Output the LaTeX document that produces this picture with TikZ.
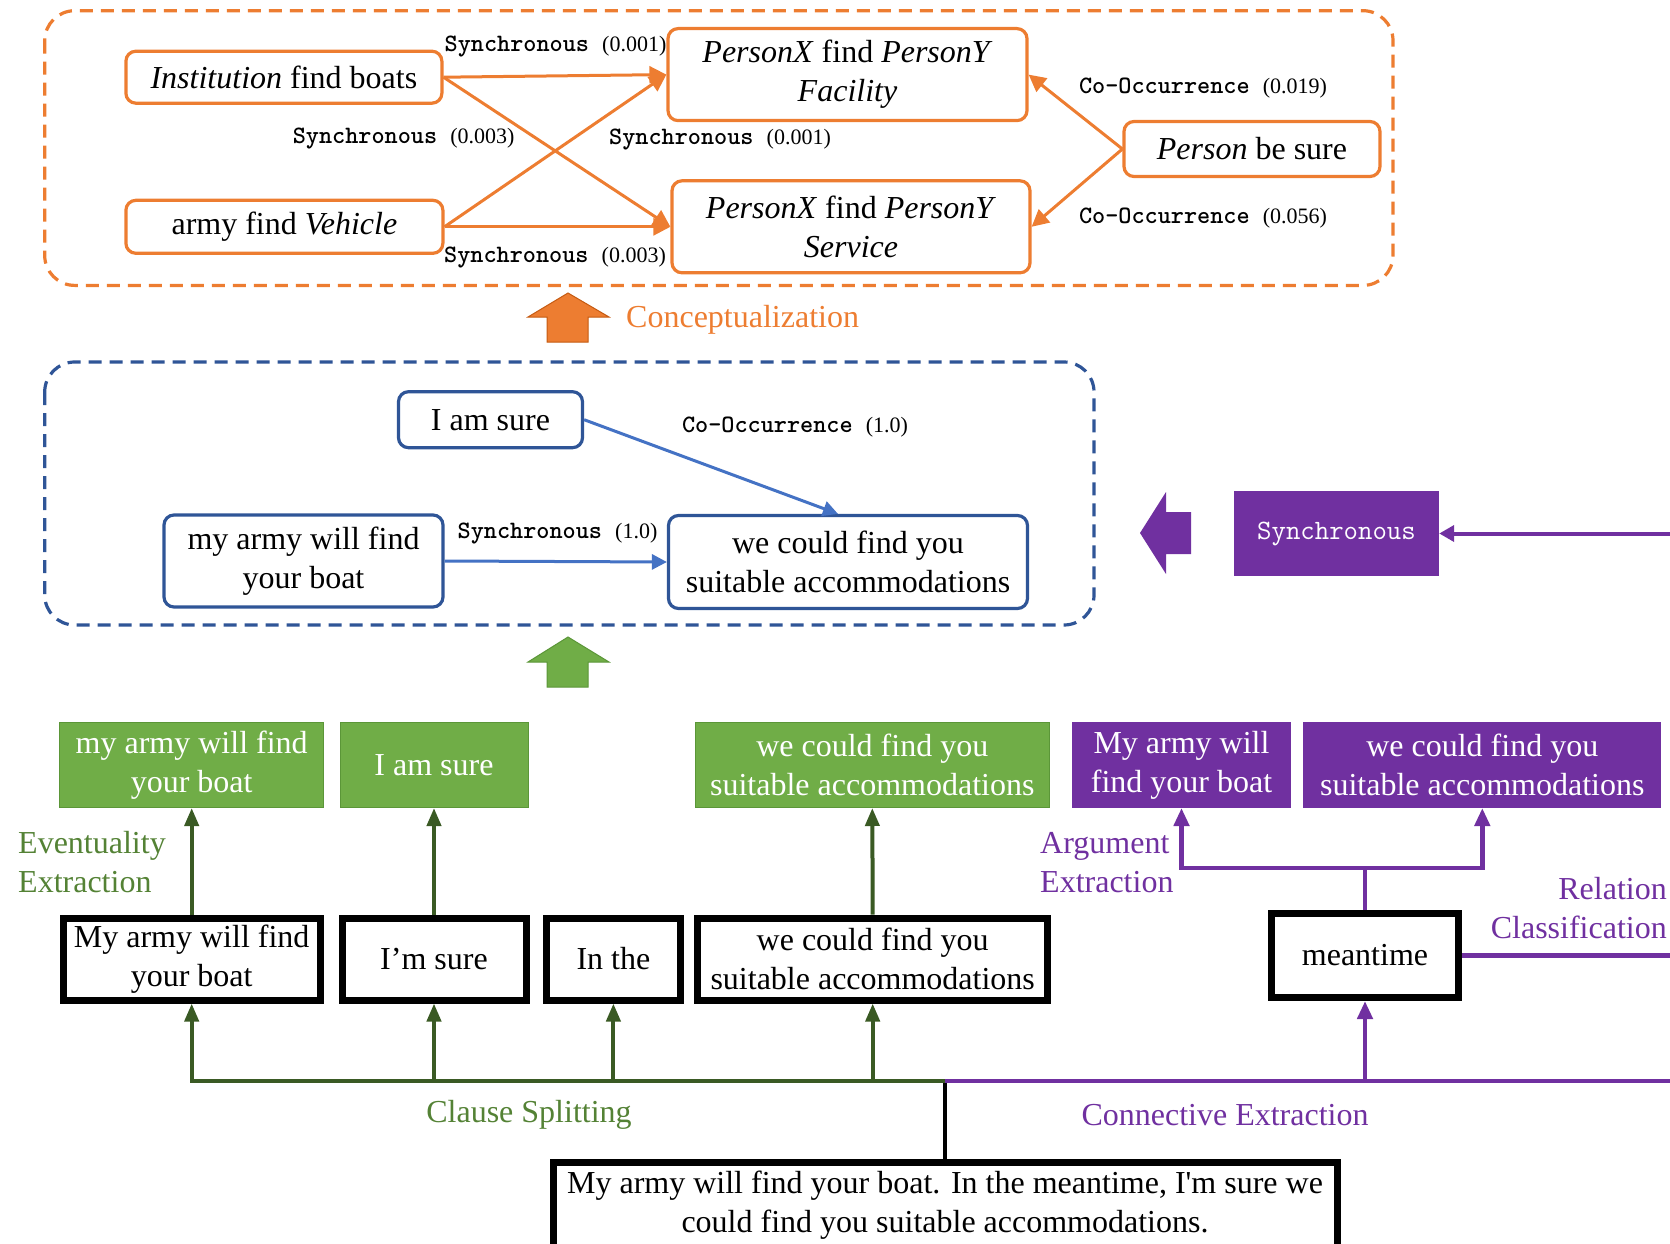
\documentclass[tikz,border=0pt]{standalone}
\usepackage{fontspec}
\setmainfont{Liberation Serif}
\newfontfamily\lmtbold{lmmonolt10-bold.otf}
\usetikzlibrary{arrows.meta}
\definecolor{ora}{HTML}{ED7D31}
\definecolor{orad}{HTML}{C55A11}
\definecolor{dblue}{HTML}{2F5597}
\definecolor{lblue}{HTML}{4472C4}
\definecolor{gfill}{HTML}{70AD47}
\definecolor{gedge}{HTML}{5B9638}
\definecolor{dgreen}{HTML}{3A5A24}
\definecolor{gtext}{HTML}{548235}
\definecolor{purp}{HTML}{7030A0}
\newcommand\mtxt{\fontsize{32}{39}\selectfont}
\newcommand\ltxt{\fontsize{22}{26}\selectfont}
\newcommand\elab[2]{{\fontsize{25}{26}\selectfont\lmtbold #1 }(#2)}
\newcommand\sqapos{{\addfontfeature{Ligatures=TeXOff}'}}
\begin{document}
\begin{tikzpicture}[x=1pt,y=-1pt,
  obox/.style={draw=ora,line width=3.2pt,rounded corners=10pt,fill=white,inner sep=0pt,align=center,font=\mtxt},
  bbox/.style={draw=dblue,line width=3.2pt,rounded corners=10pt,fill=white,inner sep=0pt,align=center,font=\mtxt},
  gbox/.style={draw=gedge,line width=1pt,fill=gfill,text=white,inner sep=0pt,align=center,font=\mtxt},
  pbox/.style={draw=purp,line width=1pt,fill=purp,text=white,inner sep=0pt,align=center,font=\mtxt},
  kbox/.style={draw=black,line width=7pt,fill=white,inner sep=0pt,align=center,font=\mtxt},
  elabel/.style={font=\ltxt,inner sep=1pt},
  oarr/.style={draw=ora,line width=3pt,-{Triangle[length=17pt,width=17pt]}},
  barr/.style={draw=lblue,line width=3pt,-{Triangle[length=15pt,width=15pt]}},
  garr/.style={draw=dgreen,line width=4pt,-{Triangle[length=18pt,width=14pt]}},
  gline/.style={draw=dgreen,line width=4pt},
  parr/.style={draw=purp,line width=4.5pt,-{Triangle[length=18pt,width=15pt]}},
  pline/.style={draw=purp,line width=4.5pt},
  odash/.style={draw=ora,line width=3.2pt,dash pattern=on 13pt off 8pt,rounded corners=30pt},
  bdash/.style={draw=dblue,line width=3.2pt,dash pattern=on 13pt off 8pt,rounded corners=30pt},
]
\useasboundingbox (0,0) rectangle (1670,1244);
\clip (0,0) rectangle (1670,1244);

% ---------- conceptualized graph ----------
\draw[odash] (44.7,10.7) rectangle (1393,285.4);
\node[obox,minimum width=316pt,minimum height=52pt] (inst) at (283.9,77.2) {\textit{Institution} find boats};
\node[obox,minimum width=317pt,minimum height=53pt] (armyv) at (284.4,226.8) {army find \textit{Vehicle}};
\node[obox,minimum width=359pt,minimum height=92pt] (fac) at (847.5,74.6) {\textit{PersonX} find \textit{PersonY}\\\textit{Facility}};
\node[obox,minimum width=358pt,minimum height=92pt] (ser) at (851,226.8) {\textit{PersonX} find \textit{PersonY}\\\textit{Service}};
\node[obox,minimum width=256pt,minimum height=55pt] (pbs) at (1252,149) {\textit{Person} be sure};
\draw[oarr] (inst.east) -- (fac.west);
\draw[oarr] (inst.east) -- (ser.west);
\draw[oarr] (armyv.east) -- (fac.west);
\draw[oarr] (armyv.east) -- (ser.west);
\draw[oarr] (pbs.west) -- (fac.east);
\draw[oarr] (pbs.west) -- (ser.east);
\node[elabel] (l1) at (555.5,47) {\elab{Synchronous}{0.001}};
\node[elabel] (l2) at (403.6,138.5) {\elab{Synchronous}{0.003}};
\node[elabel] (l3) at (720,139.5) {\elab{Synchronous}{0.001}};
\node[elabel] (l4) at (555,257.8) {\elab{Synchronous}{0.003}};
\node[elabel] (l5) at (1203,88.4) {\elab{Co-Occurrence}{0.019}};
\node[elabel] (l6) at (1203,218.3) {\elab{Co-Occurrence}{0.056}};

% ---------- conceptualization arrow ----------
\filldraw[fill=ora,draw=orad,line width=1pt] (568,293) -- (609,317) -- (588,317) -- (588,342) -- (547,342) -- (547,317) -- (528,317) -- cycle;
\node[font=\mtxt,text=ora,anchor=west,inner sep=0pt] (concept) at (626,320) {Conceptualization};

% ---------- eventuality graph ----------
\draw[bdash] (44.7,362) rectangle (1094,625);
\node[bbox,minimum width=184pt,minimum height=56pt] (ias) at (490.5,419.7) {I am sure};
\node[bbox,minimum width=279pt,minimum height=92pt] (mya) at (303.5,561) {my army will find\\your boat};
\node[bbox,minimum width=359pt,minimum height=93pt] (wcf) at (848,562) {we could find you\\suitable accommodations};
\draw[barr] (ias.east) -- ([xshift=-10pt]wcf.north);
\draw[barr] (mya.east) -- (wcf.west);
\node[elabel] (l7) at (795,427) {\elab{Co-Occurrence}{1.0}};
\node[elabel] (l8) at (557.5,533.6) {\elab{Synchronous}{1.0}};

% ---------- green block arrow ----------
\filldraw[fill=gfill,draw=gedge,line width=1pt] (568,637) -- (609,662) -- (588,662) -- (588,687) -- (547,687) -- (547,662) -- (528,662) -- cycle;

% ---------- purple block arrow and relation ----------
\fill[purp] (1140,533) -- (1166,492) -- (1166,512) -- (1191,512) -- (1191,554) -- (1166,554) -- (1166,574) -- cycle;
\node[fill=purp,text=white,minimum width=205pt,minimum height=85pt,inner sep=0pt,font=\fontsize{28}{30}\selectfont\ttfamily] (sync) at (1336.5,533.5) {Synchronous};
\coordinate (sr) at (1675,533.5);
\draw[draw=purp,line width=4pt,-{Triangle[length=15pt,width=16pt]}] (sr) -- (sync.east);

% ---------- extracted eventualities ----------
\node[gbox,minimum width=264pt,minimum height=85pt] (g1) at (191.7,765) {my army will find\\your boat};
\node[gbox,minimum width=188pt,minimum height=85pt] (g2) at (434,765) {I am sure};
\node[gbox,minimum width=353.5pt,minimum height=85pt] (g3) at (872.3,765) {we could find you\\suitable accommodations};
\node[pbox,minimum width=218pt,minimum height=85pt] (p1) at (1181.5,765) {My army will\\find your boat};
\node[pbox,minimum width=357pt,minimum height=85pt] (p2) at (1482.3,765) {we could find you\\suitable accommodations};

% ---------- clauses ----------
\node[kbox,minimum width=257pt,minimum height=82pt] (b1) at (191.7,959) {My army will find\\your boat};
\node[kbox,minimum width=184pt,minimum height=82pt] (b2) at (434,959) {I’m sure};
\node[kbox,minimum width=134pt,minimum height=82pt] (b3) at (613.4,959) {In the};
\node[kbox,minimum width=350pt,minimum height=82pt] (b4) at (872.7,959) {we could find you\\suitable accommodations};
\node[kbox,minimum width=187pt,minimum height=84pt] (b5) at (1365,955.5) {meantime};
\node[kbox,minimum width=784pt,minimum height=86pt] (sent) at (945,1205) {My army will find your boat. In the meantime, I\sqapos m sure we\\could find you suitable accommodations.};

% ---------- connectors ----------
\coordinate (cs) at (945,1081);
\draw[draw=black,line width=4pt] (sent.north) -- (cs);
\draw[garr] (cs) -| (b1.south);
\draw[garr] (cs) -| (b2.south);
\draw[garr] (cs) -| (b3.south);
\draw[garr] (cs) -| (b4.south);
\draw[garr] (b1.north) -- (g1.south);
\draw[garr] (b2.north) -- (g2.south);
\draw[garr] (b4.north) -- (g3.south);
\coordinate (pr) at (1675,1081);
\draw[pline] (cs) -- (pr);
\draw[parr] (cs) -| (b5.south);
\coordinate (pj) at (1365,868);
\draw[pline] (b5.north) -- (pj);
\draw[parr] (pj) -| (p1.south);
\draw[parr] (pj) -| (p2.south);
\coordinate (mr) at (1675,955.5);
\draw[pline] (b5.east) -- (mr);

% ---------- step labels ----------
\node[font=\mtxt,text=gtext,anchor=west,align=left,inner sep=0pt] (evx) at (18,862) {Eventuality\\Extraction};
\node[font=\mtxt,text=gtext,inner sep=0pt] (csp) at (529,1115) {Clause Splitting};
\node[font=\mtxt,text=purp,anchor=west,align=left,inner sep=0pt] (agx) at (1040,863) {Argument\\Extraction};
\node[font=\mtxt,text=purp,anchor=east,align=right,inner sep=0pt] (rcl) at (1667,908) {Relation\\Classification};
\node[font=\mtxt,text=purp,inner sep=0pt] (cex) at (1225,1115) {Connective Extraction};
\end{tikzpicture}
\end{document}
